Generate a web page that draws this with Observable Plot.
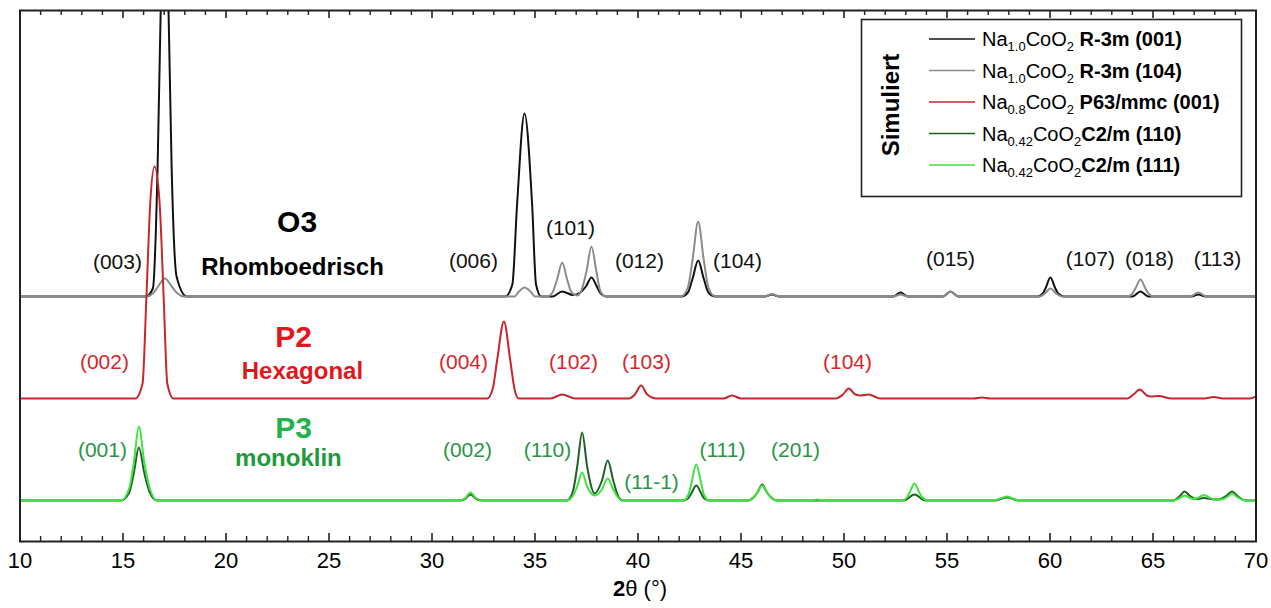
<!DOCTYPE html>
<html><head><meta charset="utf-8">
<script src="https://cdn.jsdelivr.net/npm/d3@7"></script>
<script src="https://cdn.jsdelivr.net/npm/@observablehq/plot@0.6"></script>
<style>
html,body{margin:0;padding:0;background:#fff;}
#chart{width:1271px;height:608px;}
svg{display:block}
</style></head><body><div id="chart"></div>
<script>
// ---------- DATA ----------
const xTicks = [10, 15, 20, 25, 30, 35, 40, 45, 50, 55, 60, 65, 70];
const minorTicks = d3.range(10, 71, 1).filter(d => d % 5 !== 0);

const seriesNames = ["Na1.0CoO2 R-3m (001)", "Na1.0CoO2 R-3m (104)", "Na0.8CoO2 P63/mmc (001)", "Na0.42CoO2 C2/m (110)", "Na0.42CoO2 C2/m (111)"];
const seriesColors = ["#111111", "#8c8c8c", "#c8262d", "#215f2a", "#3fe23f"];
// vertical offsets of the stacked patterns (intensity units)
const patternOffsets = [245, 245, 143, 41, 41];

// [2theta, intensity above its own baseline]
const o3_001 = [[10,0],[16.1,0],[16.45,8],[16.68,130],[16.83,286],[17.04,395],[17.21,286],[17.36,130],[17.6,20],[18.1,0],
  [33.55,0],[33.9,12],[34.13,92],[34.49,183],[34.86,92],[35.05,12],[35.3,0],
  [35.85,0],[36.32,5],[36.85,1.5],[37.2,4],[37.47,10],[37.74,19],[38.0,10],[38.15,4],[38.45,0],
  [42.1,0],[42.42,4],[42.65,18],[42.92,36],[43.19,18],[43.42,4],[43.75,0],
  [46.15,0],[46.5,2],[46.85,0],
  [52.4,0],[52.74,4],[53.1,0],
  [54.8,0],[55.17,5],[55.55,0],
  [59.4,0],[59.65,3],[59.8,9],[60.02,19],[60.24,9],[60.4,3],[60.7,0],
  [64.0,0],[64.39,5],[64.78,0],
  [66.85,0],[67.2,2],[67.55,0],[70,0]];
const o3_104 = [[10,0],[16.15,0],[16.45,3],[16.67,9],[17.03,18],[17.4,9],[17.65,3],[17.95,0],
  [34.0,0],[34.2,4.5],[34.49,9],[34.8,4.5],[35.0,0],
  [35.6,0],[35.85,4],[36.07,17],[36.32,34],[36.56,17],[36.78,4],[37.05,1],[37.25,6],[37.5,25],[37.74,50],[37.98,25],[38.18,5],[38.45,0],
  [42.08,0],[42.42,9],[42.65,37],[42.92,75],[43.19,37],[43.42,9],[43.75,0],
  [46.15,0],[46.5,2.5],[46.85,0],
  [52.4,0],[52.74,2],[53.1,0],
  [54.8,0],[55.17,5],[55.55,0],
  [59.5,0],[59.75,3],[60.02,8],[60.3,3],[60.6,0],
  [63.75,0],[64.0,3],[64.16,8.5],[64.39,17],[64.62,8.5],[64.78,3],[65.05,0],
  [66.8,0],[67.2,4],[67.6,0],[70,0]];
const p2_001 = [[10,0],[15.6,0],[15.95,15],[16.13,98],[16.33,198],[16.53,232],[16.77,198],[16.98,98],[17.15,15],[17.45,0],
  [32.68,0],[32.95,10],[33.16,38],[33.49,77],[33.8,38],[34.0,10],[34.21,0],
  [35.75,0],[36.32,4],[36.95,0],
  [39.55,0],[39.85,4],[40.15,13],[40.45,4],[40.9,0],
  [44.15,0],[44.57,3],[45.0,0],
  [49.6,0],[49.95,4],[50.23,10],[50.55,4],[50.8,3],[51.2,4],[51.75,0],
  [56.3,0],[56.7,1],[57.1,0],
  [63.75,0],[64.05,4],[64.36,9],[64.7,3],[64.9,2],[65.27,2.5],[65.9,0],
  [67.5,0],[67.94,1.5],[68.4,0],[69.7,0],[70,2]];
const p3_110 = [[10,0],[14.9,0],[15.3,8],[15.52,27],[15.77,53],[16.04,27],[16.3,8],[16.66,0],
  [31.35,0],[31.6,1.5],[31.87,6],[32.15,1.5],[32.45,0],
  [36.55,0],[36.85,10],[37.05,34],[37.29,68],[37.53,34],[37.9,7],[38.25,20],[38.53,40],[38.8,20],[39.0,6],[39.25,0],
  [42.2,0],[42.45,2.5],[42.6,7.5],[42.83,15],[43.06,7.5],[43.2,2.5],[43.45,0],
  [45.35,0],[45.6,3],[45.8,8],[46.03,16],[46.26,8],[46.46,3],[46.75,0],
  [52.9,0],[53.42,6],[53.95,0],
  [57.3,0],[57.92,3],[58.5,0],
  [66.0,0],[66.3,4.5],[66.53,9],[66.8,4.5],[67.1,1.5],[67.47,2.5],[67.8,1.5],[68.2,1],[68.55,4.5],[68.84,9],[69.1,4.5],[69.5,0],[70,0]];
const p3_111 = [[10,0],[14.9,0],[15.3,12],[15.52,37],[15.77,74],[16.04,37],[16.3,12],[16.66,0],
  [31.35,0],[31.6,2],[31.87,8],[32.15,2],[32.45,0],
  [36.55,0],[36.85,5],[37.05,14],[37.29,28],[37.53,14],[37.9,5],[38.25,11],[38.53,22],[38.8,11],[39.0,4],[39.25,0],
  [42.2,0],[42.45,6],[42.6,18],[42.83,36],[43.06,18],[43.2,6],[43.45,0],
  [45.35,0],[45.6,3],[45.8,8],[46.03,15],[46.26,8],[46.46,3],[46.75,0],
  [48.4,0],[48.7,1],[49.0,0],
  [52.85,0],[53.05,3],[53.2,8.5],[53.42,17],[53.64,8.5],[53.8,3],[54.1,0],
  [57.2,0],[57.6,2],[57.92,4],[58.2,2],[58.55,0],
  [66.0,0],[66.3,2.5],[66.53,5],[66.8,2.5],[67.0,1.5],[67.22,3],[67.47,5.5],[67.72,3],[68.0,1],[68.3,1],[68.6,3.5],[68.84,7],[69.08,3.5],[69.5,0],[70,0]];
const seriesPoints = [o3_001, o3_104, p2_001, p3_110, p3_111];

// reflection labels: [text, 2theta, height]
const o3Labels = [["(003)",14.73,279],["(006)",32.01,280],["(101)",36.72,313],["(012)",40.07,280],["(104)",44.83,280],
  ["(015)",55.17,282],["(107)",61.96,282],["(018)",64.83,282],["(113)",68.13,282]];
const p2Labels = [["(002)",14.1,179],["(004)",31.53,179],["(102)",36.87,179],["(103)",40.41,179],["(104)",50.17,179]];
const p3Labels = [["(001)",14.0,91],["(002)",31.72,91],["(110)",35.61,91],["(11-1)",40.66,59],["(111)",44.1,91],["(201)",47.65,91]];
const phaseTitles = [["O3",23.45,319,"#000000"],["P2",23.28,204,"#e3161e"],["P3",23.28,113,"#22b24c"]];
const phaseSubtitles = [["Rhomboedrisch",23.23,274,"#000000"],["Hexagonal",23.71,170,"#e3161e"],["monoklin",23.03,83,"#1f9a3a"]];

const legendNa = ["1.0","1.0","0.8","0.42","0.42"];
const legendPhase = ["R-3m (001)","R-3m (104)","P63/mmc (001)","C2/m (110)","C2/m (111)"];
const legendGap = [" "," "," ","",""];
const legendTitle = "Simuliert";
const xLabelBold = "2", xLabelRest = "θ (°)";

// ---------- BUILD ----------
const rows = [];
seriesNames.forEach((name, i) => seriesPoints[i].forEach(([x, v]) => rows.push({series: name, x, y: patternOffsets[i] + v})));
const toObj = a => a.map(([t, x, y, c]) => ({t, x, y, c}));

const W = 1271, H = 608, mL = 19.5, mR = 15.5, mT = 10, mB = 67;
const innerH = H - mT - mB;
const FONT = "'Liberation Sans', Arial, Helvetica, sans-serif";

const chart = Plot.plot({
  width: W, height: H, marginLeft: mL, marginRight: mR, marginTop: mT, marginBottom: mB,
  x: {domain: [10, 70]},
  y: {domain: [0, innerH], axis: null},
  color: {domain: seriesNames, range: seriesColors},
  style: {fontFamily: FONT, background: "white", color: "#000"},
  marks: [
    Plot.line(rows, {x: "x", y: "y", z: "series", stroke: "series", curve: "monotone-x", strokeWidth: 2, clip: true}),
    Plot.tickX(minorTicks, {x: d => d, insetTop: innerH - 5, stroke: "#222", strokeWidth: 1.4}),
    Plot.tickX(minorTicks, {x: d => d, insetBottom: innerH - 5, stroke: "#222", strokeWidth: 1.4}),
    Plot.tickX(xTicks, {x: d => d, insetTop: innerH - 8, stroke: "#222", strokeWidth: 1.6}),
    Plot.tickX(xTicks, {x: d => d, insetBottom: innerH - 8, stroke: "#222", strokeWidth: 1.6}),
    Plot.axisX(xTicks, {anchor: "bottom", tickSize: 0, tickPadding: 11, fontSize: 22, label: null, tickFormat: d => String(d)}),
    Plot.frame({stroke: "#222", strokeWidth: 2}),
    Plot.text(toObj(o3Labels), {x: "x", y: "y", text: "t", fill: "#111", fontSize: 21, lineAnchor: "middle"}),
    Plot.text(toObj(p2Labels), {x: "x", y: "y", text: "t", fill: "#d6262d", fontSize: 21, lineAnchor: "middle"}),
    Plot.text(toObj(p3Labels), {x: "x", y: "y", text: "t", fill: "#2a9448", fontSize: 21, lineAnchor: "middle"}),
    Plot.text(toObj(phaseTitles), {x: "x", y: "y", text: "t", fill: d => d.c, fontSize: 30, fontWeight: "bold", lineAnchor: "middle"}),
    Plot.text(toObj(phaseSubtitles), {x: "x", y: "y", text: "t", fill: d => d.c, fontSize: 24, fontWeight: "bold", lineAnchor: "middle"})
  ]
});
document.getElementById("chart").appendChild(chart);

// ---------- x label & legend ----------
const svg = d3.select(chart);
const xl = svg.append("text").attr("x", 640).attr("y", 588).attr("dy", "0.35em").attr("text-anchor", "middle")
  .style("font-family", FONT).style("font-size", "22px").attr("fill", "#000");
xl.append("tspan").attr("font-weight", "bold").text(xLabelBold);
xl.append("tspan").text(xLabelRest);

const lg = svg.append("g").style("font-family", FONT).attr("text-anchor", "start");
lg.append("rect").attr("x", 861.5).attr("y", 19.5).attr("width", 380).attr("height", 177)
  .attr("fill", "white").attr("stroke", "#222").attr("stroke-width", 1.6);
lg.append("text").attr("transform", "translate(891,105) rotate(-90)").attr("text-anchor", "middle").attr("dy", "0.35em")
  .style("font-size", "24px").style("font-weight", "bold").text(legendTitle);
const rowY = [39, 70.5, 102, 133.5, 165];
seriesNames.forEach((name, i) => {
  const y = rowY[i];
  lg.append("line").attr("x1", 929).attr("x2", 975).attr("y1", y).attr("y2", y)
    .attr("stroke", seriesColors[i]).attr("stroke-width", 1.6);
  const t = lg.append("text").attr("x", 982).attr("y", y + 7).attr("text-anchor", "start").style("font-size", "20px").attr("fill", "#000");
  t.append("tspan").text("Na");
  t.append("tspan").attr("dy", 5).style("font-size", "13px").text(legendNa[i]);
  t.append("tspan").attr("dy", -5).text("CoO");
  t.append("tspan").attr("dy", 5).style("font-size", "13px").text("2");
  t.append("tspan").attr("dy", -5).style("font-weight", "bold").text(legendGap[i] + legendPhase[i]);
});
</script></body></html>
